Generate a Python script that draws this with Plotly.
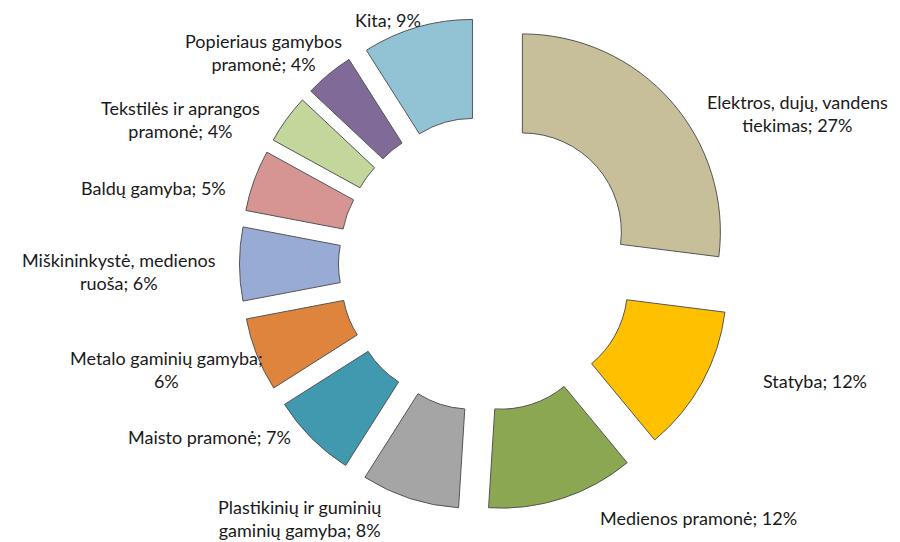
import plotly.graph_objects as go

labels = ["Elektros, dujų, vandens tiekimas", "Statyba", "Medienos pramonė",
          "Plastikinių ir guminių gaminių gamyba", "Maisto pramonė",
          "Metalo gaminių gamyba", "Miškininkystė, medienos ruoša",
          "Baldų gamyba", "Tekstilės ir aprangos pramonė",
          "Popieriaus gamybos pramonė", "Kita"]
values = [27, 12, 12, 8, 7, 6, 6, 5, 4, 4, 9]

# label text wrapping as in the reference (line breaks)
label_text = ["Elektros, dujų, vandens<br>tiekimas; {}%", "Statyba; {}%",
              "Medienos pramonė; {}%", "Plastikinių ir guminių<br>gaminių gamyba; {}%",
              "Maisto pramonė; {}%", "Metalo gaminių gamyba;<br>{}%",
              "Miškininkystė, medienos<br>ruoša; {}%", "Baldų gamyba; {}%",
              "Tekstilės ir aprangos<br>pramonė; {}%", "Popieriaus gamybos<br>pramonė; {}%",
              "Kita; {}%"]

colors = ["#C6BF99", "#FFC000", "#8CA752", "#A5A5A5", "#4199AF", "#DE843D",
          "#97ABD5", "#D69592", "#C3D69B", "#7F6A98", "#92C3D4"]

# label anchor positions in pixels (layout)
label_pos = [(789, 105), (807, 373), (690, 510), (291, 510), (201, 429),
             (158, 362), (111, 263), (145, 180), (172, 111), (255, 44), (380, 12)]

W, H = 900, 542

fig = go.Figure(go.Pie(
    labels=labels, values=values, sort=False, direction="clockwise", rotation=0,
    hole=0.5, pull=[0.245] * len(values),
    marker=dict(colors=colors, line=dict(color="#555555", width=1)),
    textinfo="none", showlegend=False,
    domain=dict(x=[231.5 / W, 724.5 / W], y=[1 - 502.5 / H, 1 - 9.5 / H]),
))

for txt, v, (px, py) in zip(label_text, values, label_pos):
    fig.add_annotation(text=txt.format(v), x=px / W, y=1 - py / H, xref="paper", yref="paper",
                       xanchor="center", yanchor="middle", showarrow=False, align="center",
                       font=dict(family="Lato", size=18, color="#1a1a1a"))

fig.update_layout(width=W, height=H, margin=dict(l=0, r=0, t=0, b=0),
                  paper_bgcolor="white", plot_bgcolor="white")
fig.write_html("out.html")
